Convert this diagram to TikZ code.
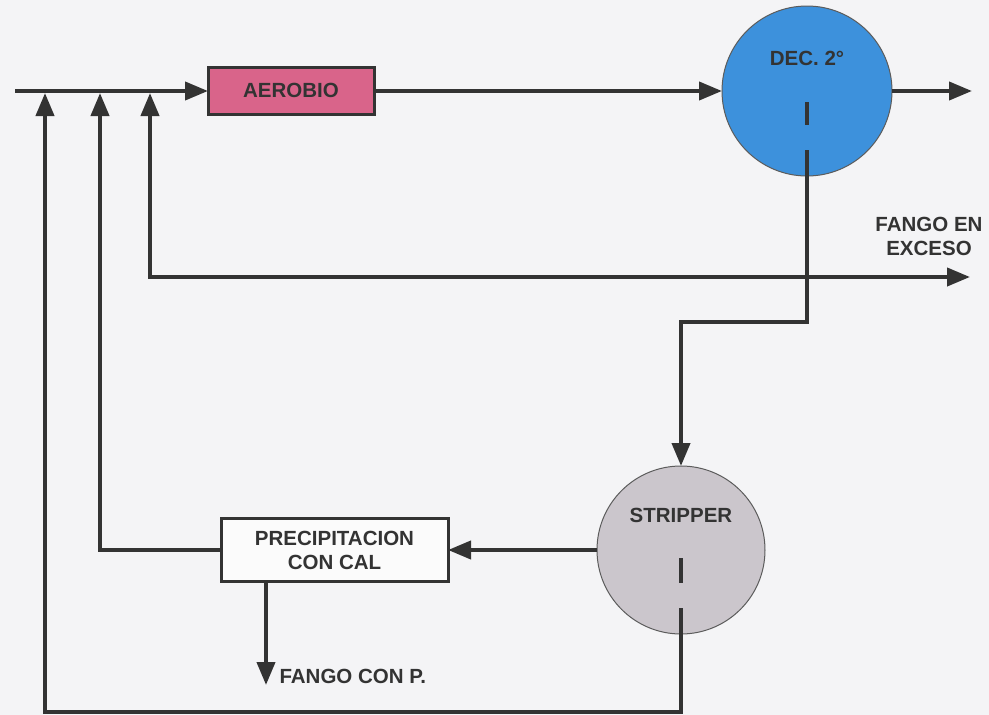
\documentclass[tikz,border=0pt]{standalone}
\usepackage{fontspec}
\setmainfont{Liberation Sans}
\usetikzlibrary{arrows.meta}
\definecolor{ink}{HTML}{333333}
\definecolor{paper}{HTML}{F4F4F6}
\definecolor{pinkbox}{HTML}{D9648A}
\definecolor{decblue}{HTML}{3D91DC}
\definecolor{stripgray}{HTML}{CBC6CC}
\begin{document}
\begin{tikzpicture}[x=1pt,y=-1pt,
  flow/.style={draw=ink,line width=4pt},
  tip/.tip={Triangle[length=23pt,width=18pt]},
  arr/.style={flow,-tip},
  boxnode/.style={draw=ink,line width=3pt,inner sep=0pt,outer sep=0pt},
  vessel/.style={circle,draw=ink!80,line width=1pt,inner sep=0pt,outer sep=0pt},
  lbl/.style={font=\fontsize{20.5}{24}\selectfont\bfseries,text=ink,align=center}]
\useasboundingbox (0,0) rectangle (989,715);
\fill[paper] (0,0) rectangle (989,715);
% nodes
\node[boxnode,fill=pinkbox,minimum width=166pt,minimum height=47pt] (aer) at (291,91) {};
\node[lbl] (aert) at (291,90) {AEROBIO};
\node[vessel,fill=decblue,minimum size=170pt] (dec) at (807,91) {};
\node[lbl] (dect) at (807,58) {DEC. 2°};
\node[vessel,fill=stripgray,minimum size=168pt] (str) at (681,550) {};
\node[lbl] (strt) at (681,515) {STRIPPER};
\node[boxnode,fill=white!60!paper,minimum width=227pt,minimum height=63pt] (pre) at (334.5,550) {};
\node[lbl] (pret) at (334.5,550) {PRECIPITACION\\CON CAL};
\node[lbl,anchor=west] (fcp) at (276,676) {FANGO CON P.};
\node[lbl] (fex) at (929,236) {FANGO EN\\EXCESO};
% coordinates
\coordinate (in) at (15,91);
\coordinate (out) at (972,91);
\coordinate (j1) at (45,93);
\coordinate (j2) at (100,93);
\coordinate (j3) at (150,93);
\coordinate (exc) at (970,277);
\coordinate (d0) at (807,102);
\coordinate (d1) at (807,125);
\coordinate (d2) at (807,150);
\coordinate (k1) at (681,322);
\coordinate (s0) at (681,558);
\coordinate (s1) at (681,583);
\coordinate (s2) at (681,608);
\coordinate (b1) at (681,712);
\coordinate (b2) at (45,712);
\coordinate (p1) at (266,582);
\coordinate (p2) at (266,685);
% connectors
\draw[arr] (in) -- (aer.west);
\draw[arr] (aer.east) -- (dec.west);
\draw[arr] (dec.east) -- (out);
\draw[flow] (d0) -- (d1);
\draw[arr] (d2) |- (k1) -- (str.north);
\draw[flow,tip-tip] (j3) |- (exc);
\draw[flow] (s0) -- (s1);
\draw[arr] (s2) -- (b1) -- (b2) -- (j1);
\draw[arr] (str.west) -- (pre.east);
\draw[arr] (pre.west) -| (j2);
\draw[arr] (p1) -- (p2);
\end{tikzpicture}
\end{document}
